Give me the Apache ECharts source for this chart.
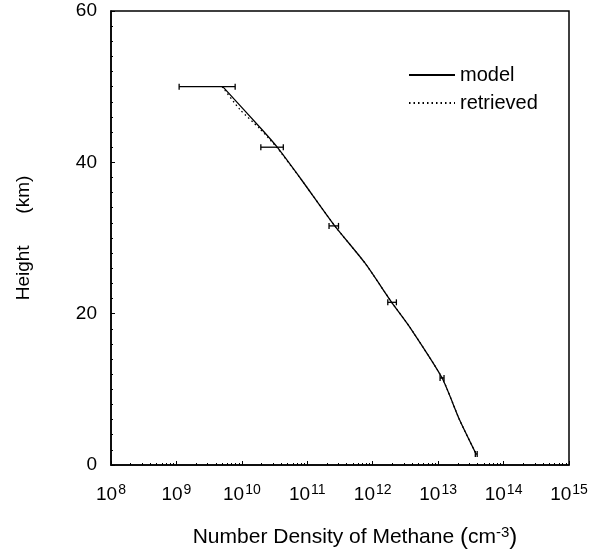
<!DOCTYPE html>
<html>
<head>
<meta charset="utf-8">
<script src="https://cdn.jsdelivr.net/npm/echarts@6/dist/echarts.min.js"></script>
<style>
  html, body { margin: 0; padding: 0; background: #fff; }
  #chart { width: 607px; height: 555px; }
</style>
</head>
<body>
<div id="chart"></div>
<script>
// model profile (height km, number density cm-3)
const modelHeights = [50, 44.3, 42, 37.6, 31.6, 26.7, 21.5, 18.2, 11.5, 5.9, 1.45]
const modelValues = [5.1e9, 2.04e10, 3.47e10, 8.3e10, 2.63e11, 7.6e11, 1.95e12, 3.7e12, 1.15e13, 2.14e13, 3.8e13]

// retrieved profile (falls on the model below ~42 km)
const retrievedHeights = [50, 47, 44.5, 42, 37.6, 31.6, 26.7, 21.5, 18.2, 11.5, 5.9, 1.45]
const retrievedValues = [5.0e9, 9.3e9, 1.85e10, 3.4e10, 8.3e10, 2.63e11, 7.6e11, 1.95e12, 3.7e12, 1.15e13, 2.14e13, 3.8e13]

// error bars: low, high, height
const errLow = [1.1e9, 1.95e10, 2.15e11, 1.7e12, 1.07e13, 3.7e13]
const errHigh = [7.9e9, 4.3e10, 3.0e11, 2.3e12, 1.23e13, 3.95e13]
const errHeights = [50, 42, 31.6, 21.5, 11.5, 1.45]

const font = 'Liberation Sans, Arial, Helvetica, sans-serif'
const chart = echarts.init(document.getElementById('chart'))

const option = {
  animation: false,
  backgroundColor: '#fff',
  grid: {
    left: 111, right: 38, top: 11, bottom: 90,
    outerBoundsMode: 'none',
    show: true, borderColor: '#000', borderWidth: 1.5
  },
  legend: {
    orient: 'vertical',
    left: 403,
    top: 60,
    itemWidth: 46,
    itemHeight: 14,
    itemGap: 8,
    itemStyle: { opacity: 0 },
    textStyle: { fontFamily: font, fontSize: 20, lineHeight: 20, color: '#000' },
    data: ['model', 'retrieved']
  },
  xAxis: {
    type: 'log',
    min: 1e8,
    max: 1e15,
    logBase: 10,
    name: 'Number Density of Methane {p|(}cm{s|-3}{p|)}',
    nameLocation: 'middle',
    nameGap: 60,
    nameTextStyle: {
      fontFamily: font, fontSize: 21, color: '#000',
      padding: [0, 0, 0, 30],
      rich: {
        p: { fontFamily: font, fontSize: 24, color: '#000' },
        s: { fontFamily: font, fontSize: 15, color: '#000', verticalAlign: 'top', padding: [0, 0, 9, 0] }
      }
    },
    axisLine: { lineStyle: { color: '#000', width: 1.5 } },
    axisTick: { show: true, inside: true, length: 4, lineStyle: { color: '#000' } },
    minorTick: { show: true, splitNumber: 9, length: 2, lineStyle: { color: '#000' } },
    splitLine: { show: false },
    axisLabel: {
      margin: 18,
      color: '#000',
      fontFamily: font,
      formatter: function (v) {
        const e = Math.round(Math.log10(v))
        return '{b|10}{s|' + e + '}'
      },
      rich: {
        b: { fontFamily: font, fontSize: 19, color: '#000' },
        s: { fontFamily: font, fontSize: 14, color: '#000', verticalAlign: 'top', padding: [0, 0, 9, 1] }
      }
    }
  },
  yAxis: {
    type: 'value',
    min: 0,
    max: 60,
    interval: 20,
    name: 'Height      (km)',
    nameLocation: 'middle',
    nameGap: 78,
    nameTextStyle: { fontFamily: font, fontSize: 19, color: '#000' },
    axisLine: { show: true, lineStyle: { color: '#000', width: 1.5 } },
    axisTick: { show: true, inside: true, length: 4, lineStyle: { color: '#000' } },
    minorTick: { show: true, splitNumber: 10, length: 2, lineStyle: { color: '#000' } },
    splitLine: { show: false },
    axisLabel: { margin: 14, color: '#000', fontFamily: font, fontSize: 19 }
  },
  series: [
    {
      name: 'model',
      type: 'line',
      symbol: 'none',
      smooth: 0.2,
      lineStyle: { color: '#000', width: 1.3 },
      itemStyle: { color: '#000' },
      data: modelValues.map((v, i) => [v, modelHeights[i]]),
      z: 3
    },
    {
      name: 'retrieved',
      type: 'line',
      symbol: 'none',
      smooth: 0.2,
      lineStyle: { color: '#000', width: 1.3, type: [1.5, 3] },
      itemStyle: { color: '#000' },
      data: retrievedValues.map((v, i) => [v, retrievedHeights[i]]),
      z: 2
    },
    {
      name: 'errors',
      type: 'custom',
      renderItem: function (params, api) {
        const y = api.value(2)
        const p1 = api.coord([api.value(0), y])
        const p2 = api.coord([api.value(1), y])
        const cap = 3
        const style = { stroke: '#000', lineWidth: 1.3 }
        return {
          type: 'group',
          children: [
            { type: 'line', shape: { x1: p1[0], y1: p1[1], x2: p2[0], y2: p2[1] }, style: style },
            { type: 'line', shape: { x1: p1[0], y1: p1[1] - cap, x2: p1[0], y2: p1[1] + cap }, style: style },
            { type: 'line', shape: { x1: p2[0], y1: p2[1] - cap, x2: p2[0], y2: p2[1] + cap }, style: style }
          ]
        }
      },
      encode: { x: [0, 1], y: 2 },
      data: errLow.map((v, i) => [v, errHigh[i], errHeights[i]]),
      z: 4
    }
  ]
}

chart.setOption(option)
</script>
</body>
</html>
